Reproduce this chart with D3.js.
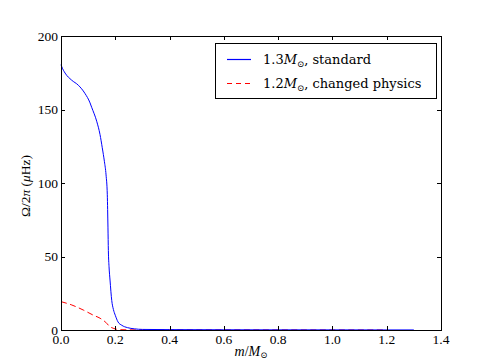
<!DOCTYPE html>
<html>
<head>
<meta charset="utf-8">
<script src="https://cdn.jsdelivr.net/npm/d3@7"></script>
<style>
  body { margin: 0; background: #fff; }
  text { font-family: "Liberation Serif", "DejaVu Serif", serif; fill: #000; }
</style>
</head>
<body>
<svg id="chart" width="491" height="361"></svg>
<script>
"use strict";

// mass coordinate m/M_sun and rotation rate Omega/2pi (muHz)
var standardX = [0, 0.003, 0.015, 0.039, 0.064, 0.088, 0.107, 0.113, 0.1315, 0.1437, 0.152, 0.16, 0.166, 0.1706, 0.1718, 0.173, 0.1745, 0.177, 0.1806, 0.187, 0.193, 0.2, 0.21, 0.224, 0.245, 0.27, 0.3, 0.4, 0.6, 0.8, 1.0, 1.2, 1.3];
var standardY = [180.5, 179, 174.8, 170, 166.5, 161, 154.5, 151.5, 142, 133, 124, 114.5, 105.5, 92, 82, 70, 54, 43, 34, 20, 14, 10, 5.5, 3.2, 1.6, 0.8, 0.4, 0.25, 0.15, 0.1, 0.08, 0.05, 0.05];

var changedX = [0, 0.04, 0.082, 0.12, 0.144, 0.165, 0.18, 0.195, 0.205, 0.22, 0.3, 0.5, 0.8, 1.0, 1.2];
var changedY = [19.3, 17, 13.6, 10, 8, 5.2, 2.3, 1, 0.5, 0.2, 0.05, 0.02, 0.01, 0.01, 0];

var xTicks = [0, 0.2, 0.4, 0.6, 0.8, 1.0, 1.2, 1.4];
var yTicks = [0, 50, 100, 150, 200];

(function() {
	var svg = d3.select("#chart");
	var plotLeft = 61, plotRight = 441, plotTop = 36, plotBottom = 330;

	var x = d3.scaleLinear().domain([0, 1.4]).range([plotLeft, plotRight]);
	var y = d3.scaleLinear().domain([0, 200]).range([plotBottom, plotTop]);

	// curves
	var line = d3.line()
		.x(function(d) { return x(d[0]); })
		.y(function(d) { return y(d[1]); })
		.curve(d3.curveMonotoneX);

	svg.append("path")
		.datum(d3.zip(changedX, changedY))
		.attr("d", line)
		.attr("fill", "none")
		.attr("stroke", "#ff0000")
		.attr("stroke-width", 1)
		.attr("stroke-dasharray", "6,3.5");

	svg.append("path")
		.datum(d3.zip(standardX, standardY))
		.attr("d", line)
		.attr("fill", "none")
		.attr("stroke", "#0000ff")
		.attr("stroke-width", 1);

	// frame and inward ticks on all sides
	var frame = svg.append("g");
	frame.append("rect")
		.attr("x", plotLeft + 0.5).attr("y", plotTop + 0.5)
		.attr("width", plotRight - plotLeft).attr("height", plotBottom - plotTop)
		.attr("fill", "none").attr("stroke", "#000").attr("stroke-width", 1);

	xTicks.forEach(function(t) {
		var px = Math.round(x(t)) + 0.5;
		frame.append("line").attr("x1", px).attr("x2", px)
			.attr("y1", plotBottom).attr("y2", plotBottom - 4).attr("stroke", "#000");
		frame.append("line").attr("x1", px).attr("x2", px)
			.attr("y1", plotTop).attr("y2", plotTop + 4).attr("stroke", "#000");
		svg.append("text")
			.attr("x", x(t)).attr("y", plotBottom + 14)
			.attr("text-anchor", "middle")
			.style("font-size", "13.5px")
			.text(d3.format(".1f")(t));
	});

	yTicks.forEach(function(t) {
		var py = Math.round(y(t)) + 0.5;
		frame.append("line").attr("x1", plotLeft).attr("x2", plotLeft + 4)
			.attr("y1", py).attr("y2", py).attr("stroke", "#000");
		frame.append("line").attr("x1", plotRight).attr("x2", plotRight - 4)
			.attr("y1", py).attr("y2", py).attr("stroke", "#000");
		svg.append("text")
			.attr("x", plotLeft - 3).attr("y", y(t) + 4.5)
			.attr("text-anchor", "end")
			.style("font-size", "13.5px")
			.text(t);
	});

	// axis labels
	var xl = svg.append("text")
		.attr("x", 251).attr("y", 356)
		.attr("text-anchor", "middle")
		.style("font-size", "14px");
	xl.append("tspan").style("font-style", "italic").text("m");
	xl.append("tspan").text("/");
	xl.append("tspan").style("font-style", "italic").text("M");
	xl.append("tspan").attr("dy", 2).style("font-size", "8.5px").text("⊙");

	var yl = svg.append("text")
		.attr("transform", "translate(30,186) rotate(-90)")
		.attr("text-anchor", "middle")
		.style("font-size", "13.5px");
	yl.append("tspan").text("Ω/2");
	yl.append("tspan").style("font-style", "italic").text("π");
	yl.append("tspan").text(" (");
	yl.append("tspan").style("font-style", "italic").text("μ");
	yl.append("tspan").text("Hz)");

	// legend
	var legend = svg.append("g");
	legend.append("rect")
		.attr("x", 215.5).attr("y", 43.5)
		.attr("width", 221).attr("height", 55)
		.attr("fill", "#fff").attr("stroke", "#000");

	var entries = [
		{mass: "1.3", note: ", standard", color: "#0000ff", dash: "none"},
		{mass: "1.2", note: ", changed physics", color: "#ff0000", dash: "5,4"}
	];
	entries.forEach(function(e, i) {
		var ly = 59 + i * 24;
		legend.append("line")
			.attr("x1", 227).attr("x2", 251)
			.attr("y1", ly + 0.5).attr("y2", ly + 0.5)
			.style("stroke", e.color)
			.style("stroke-width", 1.2)
			.style("stroke-dasharray", e.dash);
		var t = legend.append("text")
			.attr("x", 263).attr("y", ly + 4.5)
			.style("font-family", "'DejaVu Serif', serif")
			.style("font-size", "13px");
		t.append("tspan").text(e.mass);
		t.append("tspan").style("font-style", "italic").text("M");
		t.append("tspan").attr("dy", 3).style("font-size", "8.5px").text("⊙");
		t.append("tspan").attr("dy", -3).text(e.note);
	});
}());
</script>
</body>
</html>
